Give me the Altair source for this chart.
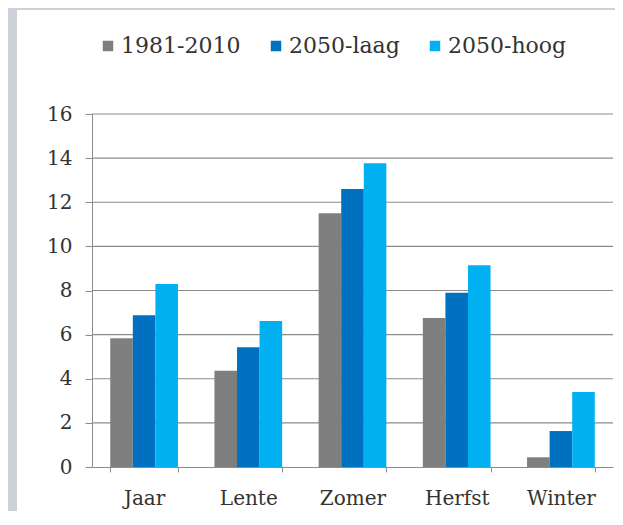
import altair as alt
import pandas as pd

categories = ["Jaar", "Lente", "Zomer", "Herfst", "Winter"]
series_names = ["1981-2010", "2050-laag", "2050-hoog"]
vals_1981_2010 = [5.84, 4.36, 11.5, 6.75, 0.44]
vals_2050_laag = [6.88, 5.43, 12.6, 7.9, 1.63]
vals_2050_hoog = [8.29, 6.62, 13.77, 9.15, 3.4]
y_ticks = [2, 4, 6, 8, 10, 12, 14, 16]
colors = ["#7f7f7f", "#0070c0", "#00b0f0"]

rows = []
for name, vals in zip(series_names, [vals_1981_2010, vals_2050_laag, vals_2050_hoog]):
    for c, v in zip(categories, vals):
        rows.append({"cat": c, "serie": name, "val": v})
df = pd.DataFrame(rows)
grid_df = pd.DataFrame({"v": y_ticks})

W, H = 521, 353
FONT = "DejaVu Serif"
TXT = "#333333"

panel = alt.Chart(alt.Data(values=[{}])).mark_rect(color="white").encode(
    x=alt.value(-75), x2=alt.value(W + 100), y=alt.value(-104), y2=alt.value(H + 120)
)

grid = alt.Chart(grid_df).mark_rule(color="#8c8c8c", strokeWidth=1.2).encode(
    y=alt.Y("v:Q", scale=alt.Scale(domain=[0, 16])),
    x=alt.value(0), x2=alt.value(W),
)

bars = alt.Chart(df).mark_bar().encode(
    x=alt.X("cat:N", sort=categories, title=None,
            scale=alt.Scale(paddingInner=0.35, paddingOuter=0.175),
            axis=alt.Axis(labelAngle=0, labelFont=FONT, labelFontSize=20, labelColor=TXT,
                          domainColor="#8c8c8c", tickColor="#8c8c8c", tickSize=5,
                          tickBand="extent", labelPadding=16, zindex=1)),
    xOffset=alt.XOffset("serie:N", sort=series_names),
    y=alt.Y("val:Q", title=None, scale=alt.Scale(domain=[0, 16]),
            axis=alt.Axis(values=y_ticks + [0], grid=False, labelFont=FONT, labelFontSize=20,
                          labelColor=TXT, domainColor="#8c8c8c", tickColor="#8c8c8c",
                          tickSize=7, labelPadding=13, zindex=1)),
    color=alt.Color("serie:N", sort=series_names,
                    scale=alt.Scale(domain=series_names, range=colors),
                    legend=alt.Legend(title=None, orient="none", direction="horizontal",
                                      legendX=5, legendY=-79, symbolType="square",
                                      symbolSize=110, symbolStrokeWidth=0,
                                      labelFont=FONT, labelFontSize=22, labelColor=TXT,
                                      labelOffset=2, columnPadding=24)),
)

chart = alt.layer(panel, grid, bars).properties(
    width=W, height=H,
    padding={"left": 84, "top": 106, "right": 2, "bottom": 44},
    autosize=alt.AutoSizeParams(type="none"),
    background="#cdd2da",
).configure_view(stroke=None)

chart.save("out.html", embed_options={"renderer": "svg", "actions": False})
